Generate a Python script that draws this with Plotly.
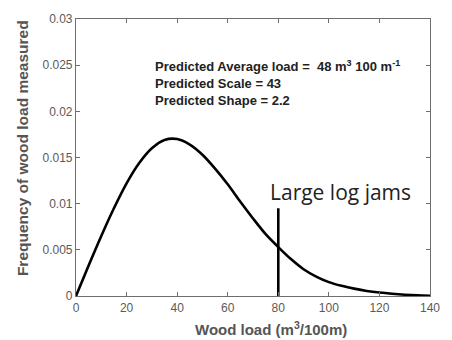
import plotly.graph_objects as go

# Wood load (m3/100m) and predicted frequency
wood_load = [0, 5, 10, 15, 20, 25, 30, 35, 40, 45, 50, 55, 60, 65, 70, 75, 80,
             85, 90, 95, 100, 105, 110, 115, 120, 125, 130, 135, 140]
frequency = [0, 0.0033, 0.0065, 0.0095, 0.0122, 0.0144, 0.0160, 0.0169, 0.0170,
             0.0164, 0.0153, 0.0138, 0.0121, 0.0102, 0.0084, 0.0067, 0.0053,
             0.0040, 0.0029, 0.0021, 0.0015, 0.0011, 0.0008, 0.00055, 0.00037,
             0.00024, 0.00014, 0.00007, 0.00003]

jam_x = [80, 80]
jam_y = [0, 0.0095]

x_ticks = [0, 20, 40, 60, 80, 100, 120, 140]
y_ticks = [0, 0.005, 0.01, 0.015, 0.02, 0.025, 0.03]
y_tick_text = ["0", "0.005", "0.01", "0.015", "0.02", "0.025", "0.03"]

info_lines = ["Predicted Average load =  48 m<sup>3</sup> 100 m<sup>-1</sup>",
              "Predicted Scale = 43",
              "Predicted Shape = 2.2"]

fig = go.Figure()
fig.add_trace(go.Scatter(x=wood_load, y=frequency, mode="lines",
                         line=dict(color="black", width=2.6, shape="spline", smoothing=0.8),
                         hoverinfo="skip"))
fig.add_trace(go.Scatter(x=jam_x, y=jam_y, mode="lines",
                         line=dict(color="black", width=2.6), hoverinfo="skip"))

axis_common = dict(showline=True, linecolor="#6e6e6e", linewidth=1.2, mirror="ticks",
                   ticks="inside", ticklen=4, tickcolor="#6e6e6e", showgrid=False,
                   zeroline=False,
                   tickfont=dict(family="Liberation Sans, Arial", size=12, color="#5a5a5a"))

fig.update_layout(
    width=452, height=340,
    margin=dict(l=76, r=13, t=12, b=44),
    plot_bgcolor="white", paper_bgcolor="white",
    showlegend=False,
    xaxis=dict(range=[0, 140], tickvals=x_ticks, **axis_common),
    yaxis=dict(range=[0, 0.03], tickvals=y_ticks, ticktext=y_tick_text, **axis_common),
)

fig.add_annotation(text="<b>" + "<br>".join(info_lines) + "</b>", x=30.5, y=0.0231,
                   xref="x", yref="y", xanchor="left", yanchor="middle", align="left",
                   showarrow=False,
                   font=dict(family="Liberation Sans, Arial", size=13, color="#222222"))
fig.add_annotation(text="Large log jams", x=104.5, y=0.0113, xref="x", yref="y",
                   xanchor="center", yanchor="middle", showarrow=False,
                   font=dict(family="Open Sans", size=21, color="#222222"))

plot_w = 452 - 76 - 13
plot_h = 340 - 12 - 44
fig.add_annotation(text="<b>Wood load (m<sup>3</sup>/100m)</b>", x=(276 - 76) / plot_w,
                   y=(296 - 329) / plot_h, xref="paper", yref="paper",
                   xanchor="center", yanchor="middle", showarrow=False,
                   font=dict(family="Liberation Sans, Arial", size=15, color="#555555"))
fig.add_annotation(text="<b>Frequency of wood load measured</b>",
                   x=(21 - 76) / plot_w, y=(296 - 144) / plot_h,
                   xref="paper", yref="paper", xanchor="center", yanchor="middle",
                   showarrow=False, textangle=-90,
                   font=dict(family="Liberation Sans, Arial", size=15.5, color="#555555"))

fig.write_html("out.html")
